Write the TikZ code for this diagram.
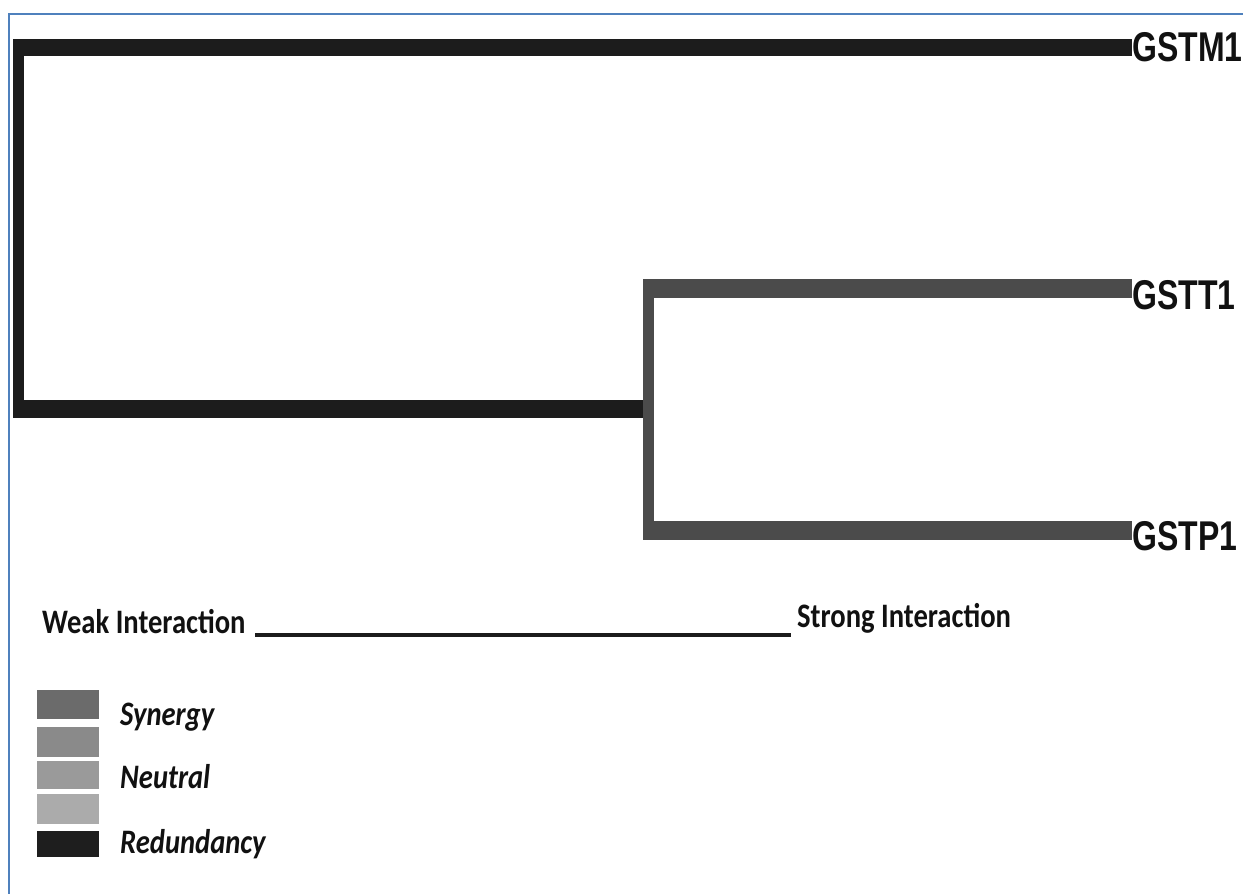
\documentclass[tikz,border=0pt]{standalone}
\usepackage{graphicx}
\usepackage{fontspec}
\newfontfamily\genefont{Liberation Sans}
\newfontfamily\legfont{Carlito}
\definecolor{framecol}{HTML}{4F81BD}
\definecolor{redun}{HTML}{1C1C1C}
\definecolor{syn}{HTML}{4B4B4B}
\definecolor{swA}{HTML}{6B6B6B}
\definecolor{swB}{HTML}{8A8A8A}
\definecolor{swC}{HTML}{9A9A9A}
\definecolor{swD}{HTML}{ABABAB}
\definecolor{swE}{HTML}{1E1E1E}
\definecolor{txt}{HTML}{111111}
\tikzset{
  genelab/.style={anchor=base west, inner sep=0pt, text=txt,
    font=\genefont\bfseries\fontsize{32}{36}\selectfont},
  axislab/.style={anchor=base west, inner sep=0pt, text=txt,
    font=\legfont\bfseries\fontsize{28.6}{32}\selectfont},
  leglab/.style={anchor=base west, inner sep=0pt, text=txt,
    font=\legfont\bfseries\itshape\fontsize{28.6}{32}\selectfont},
  hbar/.style={line width=17pt, line cap=butt},
  vbar/.style={line width=11pt, line cap=butt}
}
\begin{document}
\begin{tikzpicture}[x=1pt,y=-1pt]
\useasboundingbox (0,0) rectangle (1243,894);
\fill[white] (0,0) rectangle (1243,894);
\draw[framecol, line width=2.6pt] (9,894) -- (9,14) -- (1243,14);

% leaf labels
\node[genelab] (m1) at (1132,61) {\scalebox{1}[1.3]{GSTM1}};
\node[genelab] (t1) at (1132,309) {\scalebox{1}[1.3]{GSTT1}};
\node[genelab] (p1) at (1132,550) {\scalebox{1}[1.3]{GSTP1}};

% junctions
\coordinate (rtop) at (18.5,47.5);
\coordinate (rbot) at (18.5,409);
\coordinate (jtop) at (648.5,288.5);
\coordinate (jbot) at (648.5,530.5);
\coordinate (jmid) at (648.5,409);

% redundancy (black) branches
\draw[redun, hbar] (13,47.5) -- (rtop -| m1.west);
\draw[redun, vbar] (18.5,39) -- (18.5,418);
\draw[redun, hbar, line width=18pt] (13,409) -- (jmid);
% synergy (grey) branches
\draw[syn, vbar] (648.5,279) -- (648.5,540);
\draw[syn, hbar, line width=19pt] (643,288.5) -- (jtop -| t1.west);
\draw[syn, hbar, line width=19pt] (643,530.5) -- (jbot -| p1.west);

% interaction scale
\node[axislab] (weak) at (42,633) {\scalebox{1}[1.2]{Weak Interaction}};
\node[axislab] (strong) at (797,627) {\scalebox{1}[1.2]{Strong Interaction}};
\coordinate (sl) at (255,635);
\coordinate (sr) at (791,635);
\draw[redun, line width=4.5pt] (sl) -- (sr);

% legend
\fill[swA] (37,690) rectangle (99,719);
\fill[swB] (37,727) rectangle (99,757);
\fill[swC] (37,761) rectangle (99,789);
\fill[swD] (37,794) rectangle (99,824);
\fill[swE] (37,831) rectangle (99,857);
\node[leglab] (lsyn) at (120,725) {\scalebox{1}[1.2]{Synergy}};
\node[leglab] (lneu) at (120,788) {\scalebox{1}[1.2]{Neutral}};
\node[leglab] (lred) at (120,853) {\scalebox{1}[1.2]{Redundancy}};
\end{tikzpicture}
\end{document}
